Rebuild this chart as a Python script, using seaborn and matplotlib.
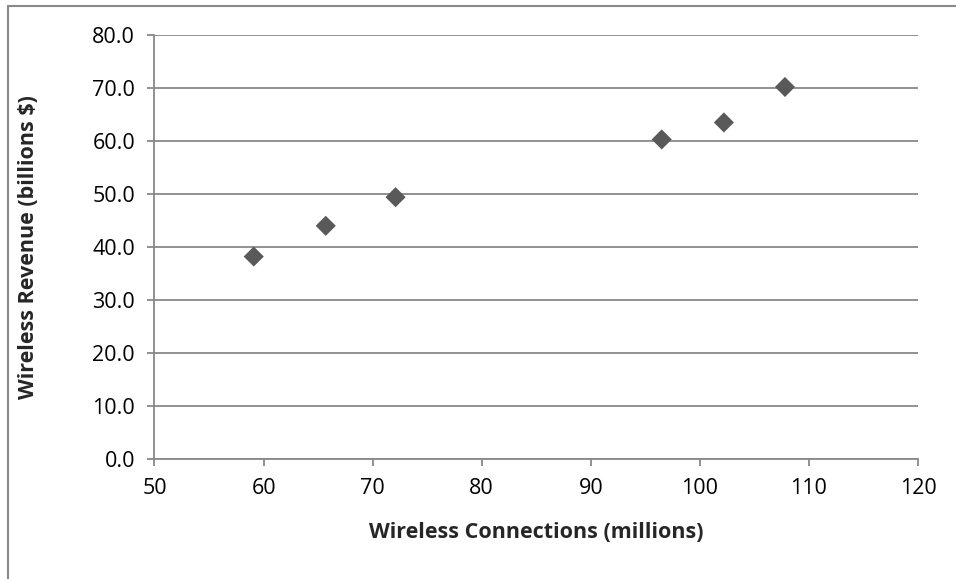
import seaborn as sns
import matplotlib.pyplot as plt
import pandas as pd
from matplotlib.patches import Rectangle

# data
connections = [59.1, 65.7, 72.1, 96.5, 102.2, 107.8]
revenue = [38.2, 44.0, 49.4, 60.3, 63.5, 70.2]
x_ticks = [50, 60, 70, 80, 90, 100, 110, 120]
y_ticks = [0, 10, 20, 30, 40, 50, 60, 70, 80]

df = pd.DataFrame({"connections": connections, "revenue": revenue})

sns.set_style("white")
plt.rcParams["font.family"] = ["Open Sans", "DejaVu Sans"]

grey = "#898989"

fig = plt.figure(figsize=(9.56, 5.79), dpi=100)
ax = fig.add_axes([0.1616, 0.2073, 0.7987, 0.7322])

sns.scatterplot(data=df, x="connections", y="revenue", marker="D", s=105,
                color="#595959", edgecolor="none", ax=ax, zorder=3)

ax.set_xlim(50, 120)
ax.set_ylim(0, 80)
ax.set_xticks(x_ticks)
ax.set_yticks(y_ticks)
ax.set_yticklabels([f"{v:.1f}" for v in y_ticks])

ax.yaxis.grid(True, color=grey, linewidth=1.3)
ax.xaxis.grid(False)
ax.set_axisbelow(True)

for side in ["top", "right"]:
    ax.spines[side].set_visible(False)
for side in ["left", "bottom"]:
    ax.spines[side].set_color(grey)
    ax.spines[side].set_linewidth(1.3)

ax.tick_params(axis="both", which="major", direction="out", length=5,
               width=1.3, color=grey, labelsize=15.5, labelcolor="black",
               bottom=True, left=True)
ax.tick_params(axis="x", pad=9)
ax.tick_params(axis="y", pad=9)

ax.set_xlabel("Wireless Connections (millions)", fontsize=15.5,
              fontweight="bold", labelpad=16)
ax.set_ylabel("Wireless Revenue (billions $)", fontsize=15.5,
              fontweight="bold")
ax.yaxis.set_label_coords(-0.151, 0.5)

# chart area border
fig.patches.append(Rectangle((8 / 956, -0.05), 1.2, 1 - 6 / 579 + 0.05,
                             transform=fig.transFigure, fill=False,
                             edgecolor=grey, linewidth=1.5))

fig.savefig("out.png", dpi=100)
